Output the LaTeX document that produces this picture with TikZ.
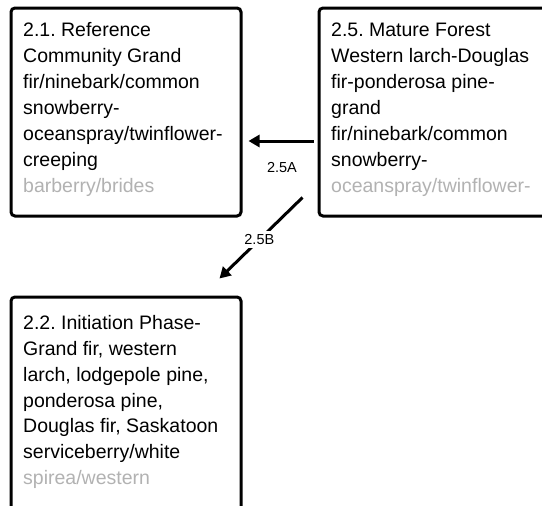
\documentclass[tikz,border=0pt]{standalone}
\usepackage{fontspec}
\setmainfont{Liberation Sans}
\usetikzlibrary{arrows.meta}
\tikzset{
  box/.style={draw=black, line width=3pt, rounded corners=4pt, fill=white, inner sep=0pt},
  boxtext/.style={anchor=base west, inner sep=0pt, font=\fontsize{19.5}{26}\selectfont},
  conn/.style={line width=3pt, -{Triangle[length=11pt,width=12pt]}},
  lbl/.style={font=\fontsize{14.5}{16}\selectfont, fill=white, inner sep=3pt}
}
\newcommand{\fadeline}[1]{\textcolor{black!30}{#1}}
\frenchspacing
\begin{document}
\begin{tikzpicture}[x=1pt,y=-1pt]
\useasboundingbox (0,0) rectangle (542,506);
\clip (0,0) rectangle (542,506);
\node[box, minimum width=230pt, minimum height=208pt] (b21) at (126,112) {};
\node[box, minimum width=241pt, minimum height=208pt] (b25) at (439.5,112) {};
\node[box, minimum width=230pt, minimum height=233pt] (b22) at (126,413.5) {};
\node[boxtext] (t21) at (23,37) {\parbox[t]{300pt}{\raggedright\frenchspacing
2.1. Reference\\
Community Grand\\
fir/ninebark/common\\
snowberry-\\
oceanspray/twinflower-\\
creeping\\
\fadeline{barberry/brides}}};
\node[boxtext] (t25) at (331,37) {\parbox[t]{300pt}{\raggedright\frenchspacing
2.5. Mature Forest\\
Western larch-Douglas\\
fir-ponderosa pine-\\
grand\\
fir/ninebark/common\\
snowberry-\\
\fadeline{oceanspray/twinflower-}}};
\node[boxtext] (t22) at (23,329) {\parbox[t]{300pt}{\raggedright\frenchspacing
2.2. Initiation Phase-\\
Grand fir, western\\
larch, lodgepole pine,\\
ponderosa pine,\\
Douglas fir, Saskatoon\\
serviceberry/white\\
\fadeline{spirea/western}}};
\draw[conn] ([shift={(-4,29)}]b25.west) -- ([shift={(6,29)}]b21.east);
\node[font=\fontsize{14.5}{16}\selectfont] (l25a) at (282,168) {2.5A};
\draw[conn] ([shift={(-15,-20)}]b25.south west) -- node[lbl, pos=0.52] (l25b) {2.5B} ([shift={(-23,-17)}]b22.north east);
\end{tikzpicture}
\end{document}
